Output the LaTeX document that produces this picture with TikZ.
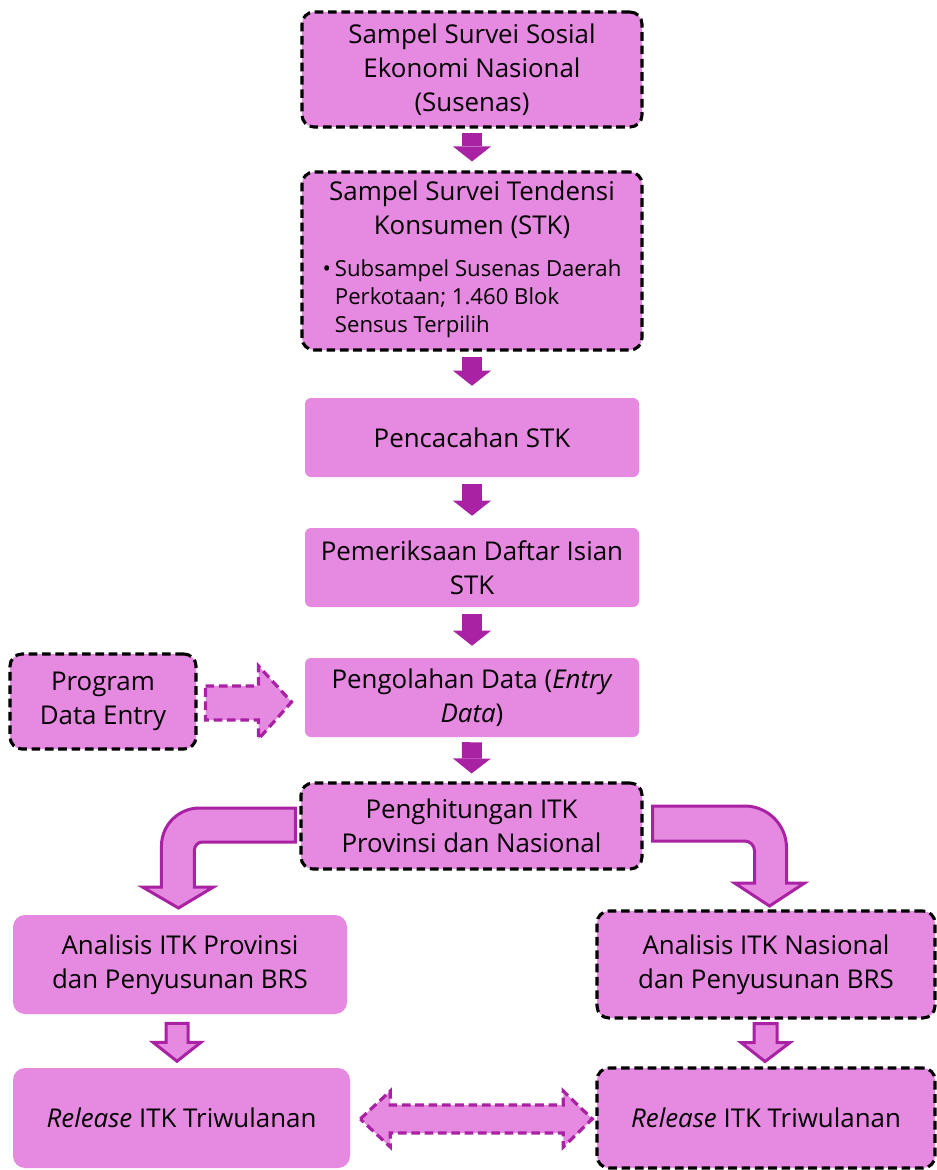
\documentclass[tikz,border=0pt]{standalone}
\usepackage{fontspec}
\setmainfont{Open Sans}
\usetikzlibrary{arrows.meta,calc}

\definecolor{boxpink}{RGB}{230,137,225}
\definecolor{arrowmag}{RGB}{168,34,163}
\newcommand\boxfont{\fontsize{19.4}{25.5}\selectfont}
\newcommand\bulletfont{\fontsize{16.6}{21}\selectfont}

\begin{document}
\begin{tikzpicture}[x=0.75pt,y=0.75pt,yscale=-1,xscale=1,
  plainbox/.style={fill=boxpink, rounded corners=4.5pt, align=center, inner sep=0pt, font=\boxfont},
  roundbox/.style={plainbox, rounded corners=9pt},
  dashbox/.style={roundbox, draw=black, line width=2.3pt, dash pattern=on 6.5pt off 3.5pt},
  solidarrow/.style={draw=arrowmag, line width=15pt, -{Triangle[width=28.5pt,length=11.25pt,line width=0pt]}},
  hollowarrow/.style={fill=boxpink, draw=arrowmag, line width=2.25pt, line join=miter},
  dasharrow/.style={hollowarrow, line width=2.4pt, dash pattern=on 6.5pt off 3.5pt}]
\useasboundingbox (0,0) rectangle (937,1170);

% Boxes
\node[dashbox, minimum width=255pt, minimum height=86.25pt] (susenas) at (472,69.5) {Sampel Survei Sosial\\Ekonomi Nasional\\(Susenas)};
\node[dashbox, minimum width=255pt, minimum height=133.5pt] (stk) at (472,261) {Sampel Survei Tendensi\\Konsumen (STK)\\[6pt]{\bulletfont\begin{tabular}[t]{@{}l@{\hspace{3pt}}l@{}}\textbullet & Subsampel Susenas Daerah\\ & Perkotaan; 1.460 Blok\\ & Sensus Terpilih\end{tabular}}};
\node[plainbox, minimum width=250.5pt, minimum height=59.25pt] (cacah) at (472,437.5) {Pencacahan STK};
\node[plainbox, minimum width=250.5pt, minimum height=59.25pt] (periksa) at (472,567.5) {Pemeriksaan Daftar Isian\\STK};
\node[plainbox, minimum width=250.5pt, minimum height=59.25pt] (olah) at (472,697.5) {Pengolahan Data (\textit{Entry}\\\textit{Data})};
\node[dashbox, minimum width=139.5pt, minimum height=71.25pt] (program) at (103,701.5) {Program\\Data Entry};
\node[dashbox, minimum width=255.75pt, minimum height=64.5pt] (hitung) at (471.5,826) {Penghitungan ITK\\Provinsi dan Nasional};
\node[roundbox, minimum width=250.5pt, minimum height=74.25pt] (anprov) at (180,964.5) {Analisis ITK Provinsi\\dan Penyusunan BRS};
\node[dashbox, minimum width=253.5pt, minimum height=80.25pt] (annas) at (766,964.5) {Analisis ITK Nasional\\dan Penyusunan BRS};
\node[roundbox, minimum width=252.75pt, minimum height=75pt] (relprov) at (181.5,1118) {\textit{Release} ITK Triwulanan};
\node[dashbox, minimum width=253.5pt, minimum height=75pt] (relnas) at (766,1118) {\textit{Release} ITK Triwulanan};

% Down arrows
\draw[solidarrow, shorten <=3pt, shorten >=6.75pt] (susenas.south) -- (stk.north);
\draw[solidarrow, shorten <=3.75pt, shorten >=9pt] (stk.south) -- (cacah.north);
\draw[solidarrow, shorten <=5.25pt, shorten >=9pt] (cacah.south) -- (periksa.north);
\draw[solidarrow, shorten <=5.25pt, shorten >=9pt] (periksa.south) -- (olah.north);
\draw[solidarrow, shorten <=3.75pt, shorten >=6pt] (olah.south) -- (hitung.north);

% Program -> Pengolahan
\draw[dasharrow] ($(program.east)+(8,-15.5)$) -- ++(53,0) -- ++(0,-20) -- ++(33,36) -- ++(-33,37) -- ++(0,-19) -- ++(-53,0) -- cycle;

% Bent arrows
\draw[hollowarrow] ($(hitung.west)+(-4,-18)$) [rounded corners=28.5pt] -- ++(-134,0) [sharp corners] -- ++(0,79) -- ++(-19,0) -- ++(36,21) -- ++(35,-21) -- ++(-19,0) [rounded corners=6pt] -- ++(0,-45) [sharp corners] -- ++(101,0) -- cycle;
\draw[hollowarrow] ($(hitung.east)+(9,-20)$) [rounded corners=31.5pt] -- ++(134,0) [sharp corners] -- ++(0,77) -- ++(18,0) -- ++(-35,23) -- ++(-35,-23) -- ++(20,0) [rounded corners=7.5pt] -- ++(0,-42) [sharp corners] -- ++(-102,0) -- cycle;

% Analisis -> Release
\draw[hollowarrow] ($(anprov.south)+(-14,9)$) -- ++(22,0) -- ++(0,19) -- ++(13,0) -- ++(-24,19) -- ++(-24,-19) -- ++(13,0) -- cycle;
\draw[hollowarrow] ($(annas.south)+(-12,4)$) -- ++(23,0) -- ++(0,19) -- ++(13,0) -- ++(-25,19) -- ++(-24,-19) -- ++(13,0) -- cycle;

% Release <-> Release
\draw[dasharrow] ($(relprov.east)+(10,1)$) -- ++(30,-28) -- ++(0,14) -- ++(173,0) -- ++(0,-14) -- ++(29,28) -- ++(-29,28) -- ++(0,-14) -- ++(-173,0) -- ++(0,14) -- cycle;

\end{tikzpicture}
\end{document}
